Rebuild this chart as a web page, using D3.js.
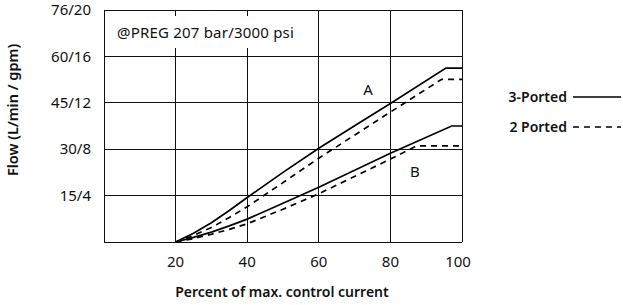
<!DOCTYPE html>
<html>
<head>
<meta charset="utf-8">
<script src="https://cdn.jsdelivr.net/npm/d3@7"></script>
<style>
  body { margin: 0; background: #fff; }
  text { font-family: "Noto Sans", sans-serif; fill: #111; }
</style>
</head>
<body>
<section></section>
<script>
// chart values (flow in L/min, x in % of max. control current)
var xTicks = [20, 40, 60, 80, 100];
var yTicks = [15, 30, 45, 60, 75];
var yTickLabels = ["15/4", "30/8", "45/12", "60/16", "76/20"];

var curveA3 = [[20, 0], [25, 2.8], [30, 6.2], [35, 10.2], [40, 14.4], [50, 22.5], [60, 30.3], [70, 37.6], [80, 44.8], [95.5, 56.2], [100, 56.2]];
var curveA2 = [[20, 0], [25, 2.1], [30, 4.7], [35, 7.9], [40, 11.4], [50, 19.2], [60, 27.1], [80, 42], [94.3, 52.6], [100, 52.6]];
var curveB3 = [[20, 0], [25, 1.5], [30, 3.2], [35, 5.2], [40, 7.4], [50, 12.5], [60, 17.7], [80, 28.7], [97.1, 37.5], [100, 37.5]];
var curveB2 = [[20, 0], [25, 1.1], [30, 2.5], [35, 4.1], [40, 5.9], [50, 10.6], [60, 15.6], [80, 26.8], [87.3, 31.1], [100, 31.1]];

// set the dimensions of the diagram
var width = 623, height = 305;
var plot = {left: 104, right: 462, top: 10, bottom: 242};

var svg = d3.select("section").append("svg")
  .attr("width", width)
  .attr("height", height);

var x = d3.scaleLinear().domain([0, 100]).range([plot.left, plot.right]);
var y = d3.scaleLinear().domain([0, 75]).range([plot.bottom, plot.top]);

// grid lines
var grid = svg.append("g")
  .attr("stroke", "#111")
  .attr("stroke-width", 1)
  .attr("shape-rendering", "crispEdges");

grid.selectAll(".vline")
  .data([0].concat(xTicks))
  .enter().append("line")
  .attr("x1", function(d) { return x(d); })
  .attr("x2", function(d) { return x(d); })
  .attr("y1", plot.top)
  .attr("y2", plot.bottom);

grid.selectAll(".hline")
  .data([0].concat(yTicks))
  .enter().append("line")
  .attr("x1", plot.left)
  .attr("x2", plot.right)
  .attr("y1", function(d) { return y(d); })
  .attr("y2", function(d) { return y(d); });

// annotation with white box behind it
svg.append("rect")
  .attr("x", plot.left + 6)
  .attr("y", 16)
  .attr("width", 196)
  .attr("height", 32)
  .attr("fill", "#fff");

svg.append("text")
  .attr("x", plot.left + 13)
  .attr("y", 33)
  .attr("dy", ".35em")
  .style("font-size", "15px")
  .style("letter-spacing", "0.2px")
  .text("@PREG 207 bar/3000 psi");

// tick labels
svg.selectAll(".xlab")
  .data(xTicks)
  .enter().append("text")
  .attr("x", function(d) { return d == 100 ? x(d) - 4 : x(d); })
  .attr("y", 262)
  .attr("dy", ".35em")
  .attr("text-anchor", "middle")
  .style("font-size", "15px")
  .text(function(d) { return d; });

svg.selectAll(".ylab")
  .data(yTicks)
  .enter().append("text")
  .attr("x", 91)
  .attr("y", function(d) { return y(d); })
  .attr("dy", ".35em")
  .attr("text-anchor", "end")
  .style("font-size", "15px")
  .text(function(d, i) { return yTickLabels[i]; });

// axis titles
svg.append("text")
  .attr("x", 282)
  .attr("y", 292)
  .attr("dy", ".35em")
  .attr("text-anchor", "middle")
  .style("font-size", "14px")
  .style("font-weight", 600)
  .text("Percent of max. control current");

svg.append("text")
  .attr("transform", "translate(13,110) rotate(-90)")
  .attr("dy", ".35em")
  .attr("text-anchor", "middle")
  .style("font-size", "14.5px")
  .style("font-weight", 600)
  .text("Flow (L/min / gpm)");

// curves
var line = d3.line()
  .x(function(d) { return x(d[0]); })
  .y(function(d) { return y(d[1]); });

var curves = [
  {data: curveA3, dash: null},
  {data: curveA2, dash: "6,5"},
  {data: curveB3, dash: null},
  {data: curveB2, dash: "6,5"}
];

svg.selectAll(".curve")
  .data(curves)
  .enter().append("path")
  .attr("class", "curve")
  .attr("fill", "none")
  .attr("stroke", "#000")
  .attr("stroke-width", 1.7)
  .attr("stroke-dasharray", function(d) { return d.dash; })
  .attr("d", function(d) { return line(d.data); });

// curve labels
svg.append("text")
  .attr("x", 368)
  .attr("y", 90)
  .attr("dy", ".35em")
  .attr("text-anchor", "middle")
  .style("font-size", "15px")
  .text("A");

svg.append("text")
  .attr("x", 415)
  .attr("y", 172)
  .attr("dy", ".35em")
  .attr("text-anchor", "middle")
  .style("font-size", "15px")
  .text("B");

// legend
var legend = [
  {name: "3-Ported", dash: null, y: 97},
  {name: "2 Ported", dash: "6,5", y: 127}
];

var lg = svg.selectAll(".legend")
  .data(legend)
  .enter().append("g")
  .attr("transform", function(d) { return "translate(0," + d.y + ")"; });

lg.append("text")
  .attr("x", 567)
  .attr("dy", ".35em")
  .attr("text-anchor", "end")
  .style("font-size", "14px")
  .style("font-weight", 600)
  .text(function(d) { return d.name; });

lg.append("line")
  .attr("x1", 573)
  .attr("x2", 621)
  .attr("y1", 0)
  .attr("y2", 0)
  .attr("stroke", "#000")
  .attr("stroke-width", 1.7)
  .attr("stroke-dasharray", function(d) { return d.dash; });
</script>
</body>
</html>
